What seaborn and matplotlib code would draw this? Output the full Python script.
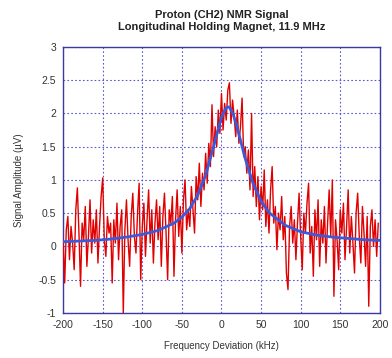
import numpy as np
import pandas as pd
import matplotlib
matplotlib.use("Agg")
import matplotlib.pyplot as plt
import seaborn as sns

# Measured (noisy) signal, 2 kHz steps from -200 to 198 kHz
freq = np.arange(-200, 200, 2)
signal = [
    0.10, -0.55, 0.25, 0.45, -0.20, 0.30, 0.05, -0.35, 0.55, 0.88,
    0.20, -0.60, 0.35, 0.10, 0.60, -0.30, 0.15, 0.70, -0.10, 0.40,
    0.05, 0.55, -0.25, 0.30, 0.75, 1.03, 0.10, -0.15, 0.45, 0.20,
    0.35, -0.55, 0.40, 0.05, 0.65, -0.20, 0.30, 0.55, -1.00, 0.25,
    0.70, 0.10, -0.30, 0.45, 0.80, 0.15, -0.10, 0.50, 0.95, -0.50,
    0.30, 0.65, -0.15, 0.40, 0.85, 0.05, 0.55, -0.25, 0.35, 0.70,
    0.10, 0.60, -0.30, 0.45, 0.80, 0.20, -0.50, 0.55, 0.35, 0.75,
    -0.45, 0.40, 0.85, 0.15, 0.60, -0.10, 0.70, 1.00, 0.25, 0.55,
    0.30, 0.90, 0.55, 0.20, 1.05, 0.70, 1.25, 0.60, 1.10, 0.85,
    1.40, 0.95, 1.55, 1.20, 2.13, 1.35, 1.80, 1.50, 2.05, 1.70,
    2.30, 1.75, 2.15, 1.90, 2.35, 2.46, 1.85, 2.20, 1.95, 1.65,
    2.05, 1.55, 1.80, 2.23, 1.35, 1.50, 1.10, 1.45, 0.85, 2.00,
    0.75, 1.20, 0.60, 1.05, 0.40, 0.90, 0.55, 1.15, 0.30, 0.70,
    0.20, 0.85, 1.20, 0.35, 0.60, -0.05, 0.50, 0.25, 0.75, 0.10,
    0.45, -0.40, -0.65, 0.30, 0.60, 0.05, 0.40, -0.20, 0.35, 0.80,
    0.15, -0.35, 0.50, 0.20, 0.65, 0.95, -0.10, 0.30, -0.45, 0.55,
    0.10, 0.70, -0.30, 0.40, 0.05, 0.60, -0.25, 0.35, 0.85, 0.15,
    1.00, -0.75, 0.40, 0.10, -0.35, 0.55, 0.20, 0.65, -0.20, 0.30,
    0.85, -0.10, 0.45, 0.05, -0.40, 0.50, 0.80, 0.15, -0.25, 0.60,
    0.20, -0.30, 0.45, -0.90, 0.30, 0.55, 0.00, 0.40, -0.15, 0.35,
]

# Fitted curve
fit_freq = [-200, -180, -160, -140, -120, -100, -80, -60, -50, -40, -30, -20, -10,
            0, 5, 8, 10, 15, 20, 25, 30, 40, 50, 60, 80, 100, 120, 140, 160, 180, 200]
fit_val = [0.07, 0.08, 0.09, 0.11, 0.14, 0.18, 0.24, 0.35, 0.44, 0.57, 0.77, 1.07, 1.50,
           1.94, 2.07, 2.10, 2.09, 1.98, 1.78, 1.55, 1.32, 0.94, 0.68, 0.51, 0.32, 0.22,
           0.17, 0.14, 0.12, 0.10, 0.09]

title_lines = ["Proton (CH2) NMR Signal", "Longitudinal Holding Magnet, 11.9 MHz"]
x_label = "Frequency Deviation (kHz)"
y_label = "Signal Amplitude (\u00b5V)"
x_ticks = [-200, -150, -100, -50, 0, 50, 100, 150, 200]
y_ticks = [-1, -0.5, 0, 0.5, 1, 1.5, 2, 2.5, 3]

sns.set_style("white")
plt.rcParams['font.family'] = ['Liberation Sans', 'DejaVu Sans']
plt.rcParams['axes.unicode_minus'] = False

fig = plt.figure(figsize=(3.92, 3.58), dpi=100)
ax = fig.add_axes([0.161, 0.126, 0.808, 0.743])

df_sig = pd.DataFrame({"f": freq, "v": signal})
df_fit = pd.DataFrame({"f": fit_freq, "v": fit_val})
sns.lineplot(data=df_sig, x="f", y="v", ax=ax, color="#e00000", linewidth=1.0, zorder=3)
sns.lineplot(data=df_fit, x="f", y="v", ax=ax, color="#3a5ad8", linewidth=2.0, zorder=4)

ax.set_xlim(-200, 200)
ax.set_ylim(-1, 3)
ax.set_xticks(x_ticks)
ax.set_xticklabels([str(t) for t in x_ticks])
ax.set_yticks(y_ticks)
ax.set_yticklabels([("%g" % t) for t in y_ticks])
ax.grid(True, color="#5a5ad0", linestyle=(0, (1.5, 2)), linewidth=0.8, zorder=0)
for s in ax.spines.values():
    s.set_color("#3a3aa0")
    s.set_linewidth(1.0)
ax.tick_params(axis="both", direction="in", length=3, color="#3a3aa0",
               labelsize=7.5, labelcolor="#333333", pad=5)
ax.set_xlabel(x_label, fontsize=7, color="#333333", labelpad=8)
ax.set_ylabel(y_label, fontsize=7, color="#333333", labelpad=10)
ax.set_title("\n".join(title_lines), fontsize=8, fontweight="bold", color="#222222",
             pad=12, linespacing=1.25)

fig.savefig("out.png", dpi=100)
